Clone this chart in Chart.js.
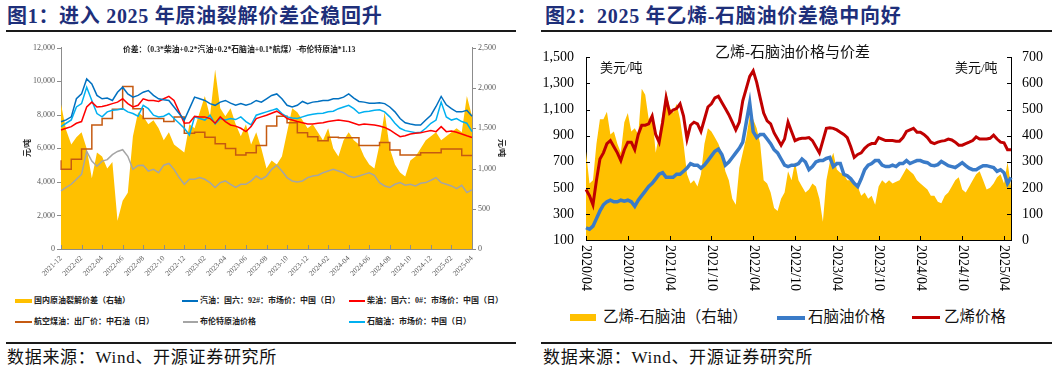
<!DOCTYPE html>
<html>
<head>
<meta charset="utf-8">
<script src="https://cdn.jsdelivr.net/npm/chart.js@4.4.0/dist/chart.umd.min.js"></script>
<style>
  body { margin: 0; background: #fff; width: 1057px; height: 373px; position: relative; overflow: hidden;
         font-family: "Liberation Serif", "Noto Sans CJK SC", serif; }
  .abs { position: absolute; white-space: nowrap; }
  .title { font-size: 20px; font-weight: bold; color: #1e2f7a; top: 5px; line-height: 22px; letter-spacing: 0.7px; }
  .rule { position: absolute; height: 2px; background: #1a1a1a; }
  .src { font-size: 17px; color: #111; top: 348px; line-height: 20px; letter-spacing: 0.7px; }
  .lg1 { font-size: 8px; font-weight: bold; color: #222; line-height: 10px; }
  .lg2 { font-size: 15.5px; color: #111; line-height: 18px; }
  .box { position: absolute; }
</style>
</head>
<body>

<!-- 图1 -->
<div class="abs title" style="left:7px">图1：进入 2025 年原油裂解价差企稳回升</div>
<div class="rule" style="left:6px;top:30px;width:510px"></div>
<div class="abs" style="left:0;top:37px;width:520px;height:258px"><canvas id="c1"></canvas></div>
<div class="abs lg1" style="left:123px;top:45px;font-size:7.8px">价差：（0.3*柴油+0.2*汽油+0.2*石脑油+0.1*航煤）-布伦特原油*1.13</div>
<div class="abs lg1" style="left:19px;top:143px;transform:rotate(-90deg)">元/吨</div>
<div class="abs lg1" style="left:492px;top:143px;transform:rotate(90deg)">元/吨</div>

<div class="box" style="left:15px;top:299px;width:17px;height:4px;background:#ffc000"></div>
<div class="abs lg1" style="left:34px;top:296px">国内原油裂解价差（右轴）</div>
<div class="box" style="left:182px;top:300px;width:16px;height:1.5px;background:#0070c0"></div>
<div class="abs lg1" style="left:200px;top:296px">汽油：国六：92#：市场价：中国（日）</div>
<div class="box" style="left:349px;top:300px;width:16px;height:1.5px;background:#ff0000"></div>
<div class="abs lg1" style="left:367px;top:296px">柴油：国六：0#：市场价：中国（日）</div>
<div class="box" style="left:15px;top:321px;width:17px;height:1.5px;background:#c55a11"></div>
<div class="abs lg1" style="left:34px;top:317px">航空煤油：出厂价：中石油（日）</div>
<div class="box" style="left:183px;top:321px;width:15px;height:1.5px;background:#a5a5a5"></div>
<div class="abs lg1" style="left:200px;top:317px">布伦特原油价格</div>
<div class="box" style="left:349px;top:321px;width:16px;height:1.5px;background:#00b0f0"></div>
<div class="abs lg1" style="left:367px;top:317px">石脑油：市场价：中国（日）</div>

<div class="rule" style="left:6px;top:342px;width:510px"></div>
<div class="abs src" style="left:7px">数据来源：Wind、开源证券研究所</div>

<!-- 图2 -->
<div class="abs title" style="left:545px">图2：2025 年乙烯-石脑油价差稳中向好</div>
<div class="rule" style="left:541px;top:30px;width:511px"></div>
<div class="abs" style="left:537px;top:37px;width:520px;height:263px"><canvas id="c2"></canvas></div>
<div class="abs" style="left:715px;top:43px;font-size:15px;line-height:18px;color:#111">乙烯-石脑油价格与价差</div>
<div class="abs" style="left:600px;top:60px;font-size:13px;line-height:16px;color:#111">美元/吨</div>
<div class="abs" style="left:955px;top:60px;font-size:13px;line-height:16px;color:#111">美元/吨</div>

<div class="box" style="left:570px;top:314px;width:26px;height:7px;background:#ffc000"></div>
<div class="abs lg2" style="left:603px;top:308px">乙烯-石脑油（右轴）</div>
<div class="box" style="left:777px;top:316px;width:28px;height:3.5px;background:#3a7bc8"></div>
<div class="abs lg2" style="left:808px;top:308px">石脑油价格</div>
<div class="box" style="left:912px;top:316px;width:28px;height:3px;background:#c00000"></div>
<div class="abs lg2" style="left:944px;top:308px">乙烯价格</div>

<div class="rule" style="left:541px;top:342px;width:511px"></div>
<div class="abs src" style="left:543px">数据来源：Wind、开源证券研究所</div>

<script>
// ---- 图1：半月采样，2021-12 ~ 2025-04 ----
const tickLabels1 = ['2021-12','2022-02','2022-04','2022-06','2022-08','2022-10','2022-12',
  '2023-02','2023-04','2023-06','2023-08','2023-10','2023-12','2024-02','2024-04','2024-06',
  '2024-08','2024-10','2024-12','2025-02','2025-04'];
const categories1 = halfMonths(2021, 12, 81, '-');

const gasoline1 = [7590, 7700, 7880, 8960, 9250, 10140, 9840, 9160, 8960, 9000,
  8860, 9350, 9650, 9250, 9060, 9160, 9350, 9450, 9160, 8960,
  8900, 8860, 8470, 8080, 7690, 8370, 9060, 8960, 8860, 8670,
  8570, 8760, 8860, 8700, 8570, 8670, 8570, 8670, 8860, 8760,
  8960, 9160, 9250, 8960, 8570, 8470, 8570, 8800, 8670, 8760,
  8800, 8860, 8860, 8960, 8960, 9060, 9250, 9000, 8800, 8760,
  8700, 8700, 8720, 8670, 8470, 8180, 7780, 7530, 7450, 7390,
  7390, 7690, 7980, 8500, 9100, 8600, 8370, 8180, 8180, 8270,
  7920];
const diesel1 = [7100, 7200, 7300, 7500, 7600, 8470, 8760, 8470, 8500, 8570,
  8670, 8760, 8960, 8670, 8470, 8570, 8960, 8860, 8860, 8800,
  8960, 9100, 8860, 8180, 7500, 7530, 7920, 7880, 7880, 7780,
  7500, 7880, 7600, 7400, 7330, 7200, 7000, 7300, 7780, 7880,
  7980, 8100, 8220, 8020, 7780, 7690, 7600, 7530, 7450, 7450,
  7500, 7530, 7600, 7650, 7690, 7650, 7600, 7500, 7400, 7450,
  7430, 7390, 7330, 7250, 7100, 6900, 6700, 6750, 6860, 6900,
  6940, 7000, 7060, 7000, 7300, 7000, 7040, 6960, 6860, 6750,
  6650];
const naphtha1 = [7300, 7500, 7700, 8470, 8670, 9650, 8860, 8080, 7880, 8180,
  8270, 8300, 8370, 8180, 8080, 7920, 8570, 8370, 7980, 7880,
  7920, 8080, 7780, 7500, 7200, 6800, 7880, 7780, 7690, 7980,
  7450, 7780, 7690, 7780, 7720, 7880, 7600, 7400, 7980, 8080,
  8180, 8270, 8370, 8080, 7880, 7820, 7780, 7880, 7980, 8030,
  8080, 8100, 8180, 8220, 8370, 8470, 8570, 8370, 8100, 8180,
  8220, 8270, 8300, 8180, 7880, 7500, 7200, 7060, 7000, 6940,
  6960, 7200, 7500, 7690, 8760, 7880, 7690, 7780, 7600, 7500,
  7000];
const jetFuel1 = [5300, 4750, 4750, 5350, 5350, 5960, 5960, 7400, 7400, 7780,
  7780, 8330, 8330, 9690, 9690, 8370, 8370, 7780, 7780, 7780,
  7780, 7600, 7600, 7880, 7880, 6900, 6900, 6960, 6960, 6670,
  6670, 6270, 6270, 6000, 6000, 5600, 5600, 5740, 5740, 6170,
  6170, 7330, 7330, 7920, 7920, 7530, 7530, 6940, 6940, 6700,
  6700, 6450, 6450, 6670, 6670, 6630, 6630, 6630, 6630, 6170,
  6170, 6170, 6170, 6350, 6350, 5900, 5900, 5610, 5610, 5610,
  5610, 5740, 5740, 5740, 5740, 5960, 5960, 5960, 5960, 5570,
  5570];
const brent1 = [3470, 3670, 3860, 4160, 4450, 5820, 5240, 4940, 5240, 5330,
  5630, 5820, 5920, 5530, 4750, 4980, 5000, 4650, 4750, 4550,
  5000, 5100, 4750, 4260, 3860, 4160, 4160, 4260, 4160, 3960,
  3670, 3960, 4060, 3860, 3670, 3860, 3860, 4060, 4350, 4160,
  4350, 4750, 5000, 4650, 4260, 4060, 4000, 4060, 4260, 4350,
  4400, 4550, 4650, 4750, 4650, 4550, 4350, 4260, 4350, 4450,
  4550, 4400, 3960, 3760, 3670, 3860, 3960, 3800, 3860, 3760,
  3920, 3960, 4100, 4260, 3960, 3860, 3760, 3600, 3800, 3370,
  3530];
const crackSpread1 = [1800, 1480, 1300, 1390, 1450, 1250, 880, 1200, 1150, 1000,
  1080, 350, 600, 700, 1400, 1700, 1650, 1550, 1600, 1500,
  1350, 1450, 1300, 1250, 1200, 1550, 1500, 1700, 1900, 1650,
  2230, 1750, 1650, 1750, 1550, 1400, 1550, 1300, 1450, 1250,
  1000, 1100, 1050, 1150, 1450, 1750, 1700, 1600, 1500, 1550,
  1450, 1350, 1500, 1250, 1150, 1350, 1450, 1350, 1300, 1150,
  1050, 1000, 1300, 1700, 1250, 1050, 950, 900, 1100, 1150,
  1250, 1350, 1400, 1450, 1350, 1400, 1450, 1500, 1450, 1900,
  1650];

// ---- 图2：半月采样，2020/04 ~ 2025/05 ----
const tickLabels2 = ['2020/04','2020/10','2021/04','2021/10','2022/04','2022/10',
  '2023/04','2023/10','2024/04','2024/10','2025/04'];
const categories2 = halfMonths(2020, 4, 123, '/');

const ethylene2 = [487, 440, 370, 557, 721, 768, 839, 862, 815, 768,
  709, 792, 850, 850, 792, 909, 980, 980, 991, 1050,
  909, 850, 1003, 1190, 1073, 1097, 1108, 1144, 1050, 874,
  980, 1003, 991, 932, 1026, 1120, 1144, 1190, 1202, 1155,
  1108, 1061, 1003, 944, 1003, 1167, 1261, 1354, 1397, 1308,
  1190, 1073, 1014, 991, 921, 874, 827, 874, 1003, 932,
  862, 874, 880, 880, 885, 862, 815, 768, 862, 956,
  960, 956, 944, 927, 909, 885, 815, 733, 756, 768,
  803, 827, 839, 839, 885, 874, 862, 862, 862, 858,
  858, 885, 932, 944, 956, 927, 927, 909, 885, 850,
  839, 850, 858, 862, 874, 867, 850, 827, 827, 839,
  850, 862, 890, 874, 874, 874, 880, 904, 874, 850,
  845, 792, 792];
const naphtha2 = [194, 182, 206, 264, 323, 370, 393, 405, 393, 393,
  405, 398, 405, 393, 358, 405, 440, 475, 510, 534,
  569, 604, 616, 581, 581, 581, 604, 604, 627, 651,
  686, 674, 674, 651, 674, 709, 745, 780, 796, 756,
  674, 698, 733, 768, 803, 850, 1000, 1150, 930, 885,
  909, 909, 874, 839, 792, 768, 721, 674, 663, 674,
  674, 686, 721, 698, 639, 663, 698, 709, 709, 725,
  733, 663, 686, 686, 604, 592, 569, 534, 510, 569,
  639, 674, 686, 709, 709, 674, 663, 663, 674, 663,
  686, 686, 709, 686, 698, 709, 709, 698, 693, 674,
  670, 678, 702, 686, 670, 663, 656, 674, 693, 670,
  651, 639, 639, 656, 670, 670, 663, 656, 627, 639,
  616, 534, 581];
const spread2 = [340, 217, 229, 369, 463, 463, 492, 404, 416, 369,
  334, 451, 487, 416, 428, 404, 580, 557, 463, 487,
  334, 404, 487, 569, 510, 487, 522, 463, 369, 252,
  217, 229, 205, 252, 369, 428, 416, 393, 369, 334,
  264, 229, 158, 135, 276, 334, 393, 475, 463, 428,
  369, 229, 217, 182, 123, 111, 158, 182, 264, 229,
  299, 229, 205, 182, 194, 217, 205, 158, 70, 229,
  299, 334, 270, 258, 252, 229, 229, 217, 205, 170,
  182, 158, 170, 135, 205, 229, 217, 229, 217, 223,
  229, 252, 276, 264, 252, 229, 217, 205, 194, 170,
  170, 147, 141, 170, 182, 205, 229, 241, 194, 182,
  205, 229, 252, 264, 229, 194, 200, 217, 241, 252,
  217, 299, 205];

// 每月 1 日和 16 日两个点
function halfMonths(y, m, n, sep) {
  const out = [];
  for (let i = 0; i < n; i++) {
    const mm = m - 1 + Math.floor(i / 2);
    const yy = y + Math.floor(mm / 12);
    const mo = String(mm % 12 + 1).padStart(2, '0');
    out.push(yy + sep + mo + sep + (i % 2 ? '16' : '01'));
  }
  return out;
}

function labelAt(cats, ticks, i) {
  const c = cats[i];
  const k = c.slice(0, 7);
  return c.endsWith('01') && ticks.includes(k) ? k : '';
}

// 刻度短线（dir: 1 朝内, -1 朝外）
function tickMarks(cats, ticks, xdir, ydir, color) {
  return {
    id: 'tickMarks',
    afterDraw(chart) {
      const ctx = chart.ctx, a = chart.chartArea, len = 4;
      ctx.save();
      ctx.strokeStyle = color;
      ctx.lineWidth = 1;
      ctx.beginPath();
      const sx = chart.scales.x;
      for (let i = 0; i < cats.length; i++) {
        if (!labelAt(cats, ticks, i)) continue;
        const x = Math.round(sx.getPixelForValue(i)) + 0.5;
        ctx.moveTo(x, a.bottom);
        ctx.lineTo(x, a.bottom - xdir * len);
      }
      const sy = chart.scales.y, sy1 = chart.scales.y1;
      sy.ticks.forEach(t => {
        const y = Math.round(sy.getPixelForValue(t.value)) + 0.5;
        ctx.moveTo(a.left, y);
        ctx.lineTo(a.left + ydir * len, y);
      });
      sy1.ticks.forEach(t => {
        const y = Math.round(sy1.getPixelForValue(t.value)) + 0.5;
        ctx.moveTo(a.right, y);
        ctx.lineTo(a.right - ydir * len, y);
      });
      ctx.stroke();
      ctx.restore();
    }
  };
}

// 图2 竖排日期（顺时针 90 度）
const verticalLabels = {
  id: 'verticalLabels',
  afterDraw(chart) {
    const ctx = chart.ctx, sx = chart.scales.x;
    ctx.save();
    ctx.font = '14px "Liberation Serif"';
    ctx.fillStyle = '#000';
    ctx.textAlign = 'left';
    ctx.textBaseline = 'middle';
    for (let i = 0; i < categories2.length; i++) {
      const lab = labelAt(categories2, tickLabels2, i);
      if (!lab) continue;
      ctx.save();
      ctx.translate(sx.getPixelForValue(i), sx.top + 5);
      ctx.rotate(Math.PI / 2);
      ctx.fillText(lab, 0, 0);
      ctx.restore();
    }
    ctx.restore();
  }
};

Chart.defaults.font.family = '"Liberation Serif"';
Chart.defaults.animation = false;

function lineSet(label, data, color, width, axis) {
  return { label, data, borderColor: color, borderWidth: width, pointRadius: 0,
           fill: false, tension: 0, yAxisID: axis };
}

new Chart(document.getElementById('c1'), {
  type: 'line',
  data: {
    labels: categories1,
    datasets: [
      lineSet('汽油：国六：92#：市场价：中国（日）', gasoline1, '#0070c0', 1.5, 'y'),
      lineSet('柴油：国六：0#：市场价：中国（日）', diesel1, '#ff0000', 1.5, 'y'),
      lineSet('石脑油：市场价：中国（日）', naphtha1, '#00b0f0', 1.5, 'y'),
      Object.assign(lineSet('航空煤油：出厂价：中石油（日）', jetFuel1, '#c55a11', 1.5, 'y'), { stepped: 'after' }),
      lineSet('布伦特原油价格', brent1, '#a5a5a5', 1.5, 'y'),
      { label: '国内原油裂解价差（右轴）', data: crackSpread1, yAxisID: 'y1', pointRadius: 0,
        borderWidth: 0, backgroundColor: '#ffc000', fill: 'origin', tension: 0 }
    ]
  },
  options: {
    responsive: true,
    maintainAspectRatio: false,
    locale: 'en-US',
    layout: { padding: { top: 8 } },
    plugins: { legend: { display: false }, tooltip: { enabled: false } },
    scales: {
      x: {
        z: 1,
        afterFit: s => { s.height = 46; },
        grid: { display: false, drawTicks: false },
        border: { color: '#8c8c8c' },
        ticks: { autoSkip: false, minRotation: 45, maxRotation: 45, padding: 5,
                 font: { size: 7.5 }, color: '#595959',
                 callback: (v, i) => labelAt(categories1, tickLabels1, i) }
      },
      y: {
        z: 1, min: 0, max: 12000,
        afterFit: s => { s.width = 61; },
        grid: { display: false, drawTicks: false },
        border: { color: '#8c8c8c' },
        ticks: { stepSize: 2000, padding: 6, font: { size: 8 }, color: '#595959' }
      },
      y1: {
        z: 1, position: 'right', min: 0, max: 2500,
        afterFit: s => { s.width = 48; },
        grid: { display: false, drawTicks: false },
        border: { color: '#8c8c8c' },
        ticks: { stepSize: 500, padding: 6, font: { size: 8 }, color: '#595959' }
      }
    }
  },
  plugins: [tickMarks(categories1, tickLabels1, 1, -1, '#8c8c8c')]
});

new Chart(document.getElementById('c2'), {
  type: 'line',
  data: {
    labels: categories2,
    datasets: [
      lineSet('乙烯价格', ethylene2, '#c00000', 3, 'y'),
      lineSet('石脑油价格', naphtha2, '#3a7bc8', 3.5, 'y'),
      { label: '乙烯-石脑油（右轴）', data: spread2, yAxisID: 'y1', pointRadius: 0,
        borderWidth: 0, backgroundColor: '#ffc000', fill: 'origin', tension: 0 }
    ]
  },
  options: {
    responsive: true,
    maintainAspectRatio: false,
    locale: 'en-US',
    layout: { padding: { top: 4 } },
    plugins: { legend: { display: false }, tooltip: { enabled: false } },
    scales: {
      x: {
        z: 1,
        afterFit: s => { s.height = 60; },
        grid: { display: false, drawTicks: false },
        border: { color: '#000' },
        ticks: { display: false, autoSkip: false }
      },
      y: {
        z: 1, min: 100, max: 1500,
        afterFit: s => { s.width = 49; },
        grid: { display: false, drawTicks: false },
        border: { color: '#000' },
        ticks: { stepSize: 200, padding: 12, font: { size: 14 }, color: '#000' }
      },
      y1: {
        z: 1, position: 'right', min: 0, max: 700,
        afterFit: s => { s.width = 46; },
        grid: { display: false, drawTicks: false },
        border: { color: '#000' },
        ticks: { stepSize: 100, padding: 11, font: { size: 14 }, color: '#000' }
      }
    }
  },
  plugins: [tickMarks(categories2, tickLabels2, 1, 1, '#000'), verticalLabels]
});
</script>
</body>
</html>
